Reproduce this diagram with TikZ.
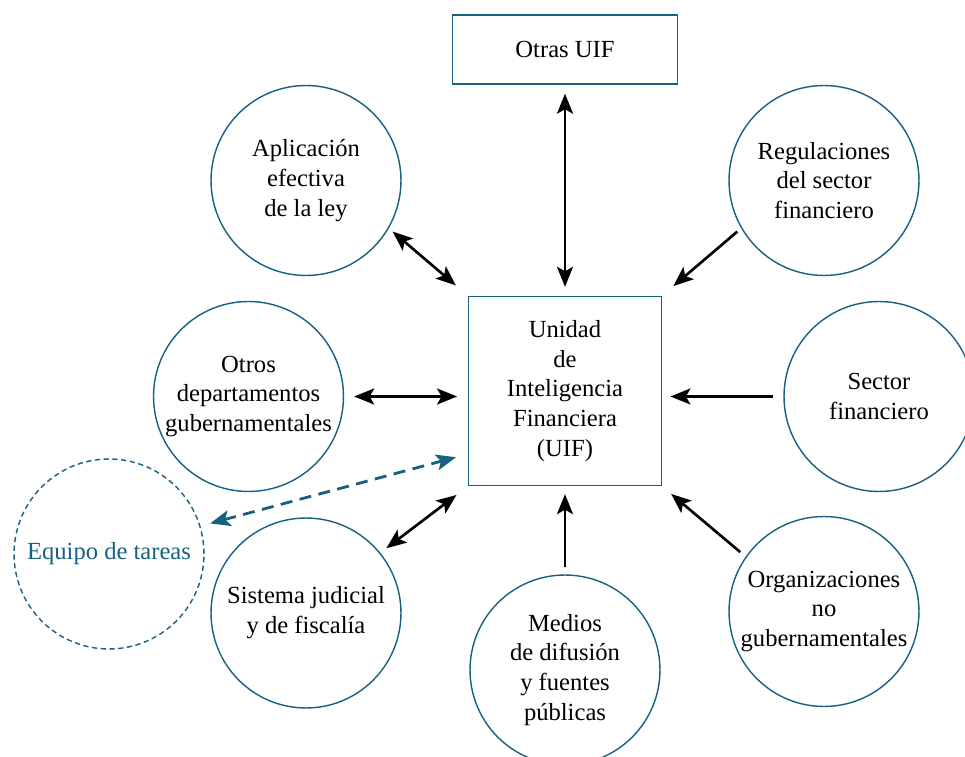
\documentclass[tikz,border=0pt]{standalone}
\usepackage{fontspec}
\setmainfont{Liberation Serif}
\usepackage{xcolor}
\usetikzlibrary{arrows.meta}

\definecolor{uifblue}{RGB}{24,96,128}

\begin{document}
\begin{tikzpicture}[
  x=0.02cm, y=-0.02cm,
  actor/.style={
    draw=uifblue, circle, line width=0.8pt, minimum size=3.8cm, inner sep=0pt,
    align=center, font=\fontsize{14}{17}\selectfont
  },
  unit/.style={
    draw=uifblue, rectangle, line width=0.8pt, inner sep=0pt,
    align=center, font=\fontsize{14}{17}\selectfont
  },
  taskforce/.style={actor, densely dashed, text=uifblue},
  flow/.style={-{Stealth[length=4mm,width=3.2mm,inset=0.9mm]}, line width=1.5pt, color=black},
  twoway/.style={{Stealth[length=4mm,width=3.2mm,inset=0.9mm]}-{Stealth[length=4mm,width=3.2mm,inset=0.9mm]}, line width=1.5pt, color=black},
  coopflow/.style={{Stealth[length=4mm,width=3.2mm,inset=0.9mm]}-{Stealth[length=4mm,width=3.2mm,inset=0.9mm]}, line width=1.6pt, color=uifblue, dash pattern=on 2.4mm off 1.5mm}
]
\useasboundingbox (0,0) rectangle (965,757);

% --- Central unit and foreign units ---
\node[unit, minimum width=3.85cm, minimum height=3.78cm] (uif) at (565,391) {Unidad\\de\\Inteligencia\\Financiera\\(UIF)};
\node[unit, minimum width=4.5cm, minimum height=1.38cm] (otras) at (565,49.5) {Otras UIF};

% --- Surrounding actors ---
\node[actor] (apl) at (306,180.5) {Aplicación\\efectiva\\de la ley};
\node[actor] (reg) at (824,180.5) {Regulaciones\\del sector\\financiero};
\node[actor] (otros) at (248.5,396.5) {Otros\\departamentos\\gubernamentales};
\node[actor] (sec) at (879,396.5) {Sector\\financiero};
\node[taskforce] (eq) at (109,554) {Equipo de tareas};
\node[actor] (sis) at (306,613) {Sistema judicial\\y de fiscalía};
\node[actor] (med) at (565,670) {Medios\\de difusión\\y fuentes\\públicas};
\node[actor] (org) at (824,611.5) {Organizaciones\\no\\gubernamentales};

% --- Exchanges with the UIF ---
\draw[twoway, shorten <=0.18cm, shorten >=0.18cm] (otras.south) -- (uif.north);
\draw[twoway, shorten <=0.1cm, shorten >=0.32cm] (apl.-30) -- (uif.north west);
\draw[flow, shorten <=0.1cm, shorten >=0.3cm] (reg.210) -- (uif.north east);
\draw[twoway, shorten <=0.2cm, shorten >=0.22cm] (otros.east) -- (uif.west |- otros.east);
\draw[flow, shorten <=0.2cm, shorten >=0.17cm] (sec.west) -- (uif.east |- sec.west);
\draw[coopflow, shorten <=0.2cm, shorten >=0.25cm] (eq.17) -- (uif.213);
\draw[twoway, shorten <=0.15cm, shorten >=0.29cm] (sis.39) -- (uif.south west);
\draw[flow, shorten <=0.14cm, shorten >=0.16cm] (med.north) -- (uif.south);
\draw[flow, shorten <=0.14cm, shorten >=0.24cm] (org.145) -- (uif.south east);

\end{tikzpicture}
\end{document}
